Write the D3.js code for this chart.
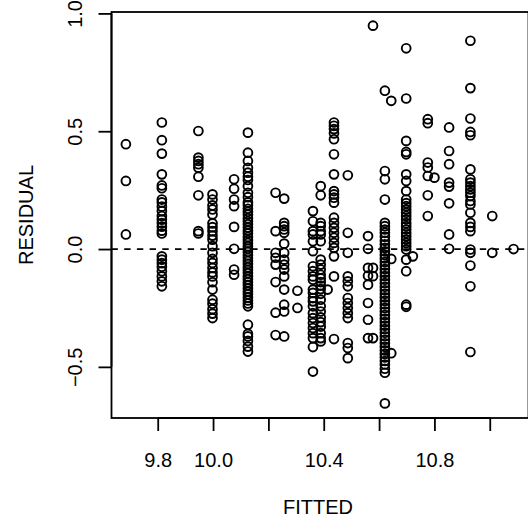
<!DOCTYPE html>
<html>
<head>
<meta charset="utf-8">
<script src="https://cdn.jsdelivr.net/npm/d3@7"></script>
<style>
  html, body { margin: 0; padding: 0; background: #fff; }
  svg { display: block; }
  text { font-family: "Liberation Sans", Arial, Helvetica, sans-serif; fill: #000; }
</style>
</head>
<body>
<svg id="chart" width="528" height="521"></svg>
<script>
// ---- data ----
const groupFitted = [
  9.685, 9.815, 9.947, 9.998, 10.076, 10.126, 10.226, 10.257, 10.305,
  10.361, 10.389, 10.414, 10.437, 10.487, 10.56, 10.578, 10.621, 10.644,
  10.698, 10.722, 10.776, 10.80, 10.853, 10.93, 11.009, 11.086
];
const groupResiduals = [
  [0.445, 0.289, 0.062],
  [0.537, 0.462, 0.405, 0.317, 0.27, 0.258, 0.21, 0.198, 0.18, 0.161, 0.14, 0.125, 0.11, 0.095, 0.078, 0.066,
   -0.031, -0.045, -0.06, -0.075, -0.094, -0.116, -0.137, -0.158],
  [0.501, 0.388, 0.374, 0.36, 0.345, 0.307, 0.228, 0.076, 0.066],
  [0.232, 0.21, 0.185, 0.168, 0.147, 0.109, 0.093, 0.076, 0.057, 0.04, 0.012, -0.016, -0.042, -0.059, -0.08,
   -0.099, -0.116, -0.141, -0.172, -0.215, -0.232, -0.255, -0.274, -0.293],
  [0.296, 0.256, 0.21, 0.182, 0.094, 0.001, -0.087, -0.109],
  [0.494, 0.409, 0.374, 0.345, 0.324, 0.307, 0.293, 0.267, 0.239, 0.22,
   0.198, 0.186, 0.171, 0.158, 0.146, 0.131, 0.118, 0.105, 0.091, 0.078, 0.066, 0.051, 0.038, 0.026, 0.012, 0.001,
   -0.012, -0.026, -0.038, -0.051, -0.063, -0.077, -0.089, -0.102, -0.116, -0.128, -0.141, -0.153, -0.167, -0.18,
   -0.192, -0.206, -0.218, -0.231, -0.243,
   -0.321, -0.36, -0.371, -0.39, -0.414, -0.435],
  [0.239, 0.076, -0.016, -0.037, -0.066, -0.14, -0.27, -0.365],
  [0.214, 0.111, 0.097, 0.083, 0.069, 0.023, -0.016, -0.045, -0.066, -0.087, -0.116, -0.172, -0.236, -0.265, -0.371],
  [-0.177, -0.25],
  [0.161, 0.118, 0.076, 0.062, 0.033, -0.009, -0.073, -0.094, -0.116, -0.13, -0.172, -0.186, -0.208, -0.222,
   -0.243, -0.272, -0.293, -0.314, -0.335, -0.357, -0.378, -0.416, -0.52],
  [0.267, 0.228, 0.111, 0.097, 0.076, 0.062, 0.033, -0.045, -0.066, -0.087, -0.109, -0.125, -0.14, -0.155,
   -0.17, -0.19, -0.215, -0.243, -0.265, -0.29, -0.31, -0.329, -0.357, -0.378, -0.392],
  [-0.172],
  [0.537, 0.523, 0.509, 0.491, 0.466, 0.402, 0.317, 0.246, 0.232, 0.218, 0.197, 0.133, 0.111, 0.09, 0.069,
   0.048, 0.026, 0.005, -0.031, -0.116, -0.382],
  [0.313, 0.069, -0.016, -0.116, -0.137, -0.158, -0.208, -0.229, -0.25, -0.272, -0.293, -0.399, -0.42, -0.463],
  [0.055, 0.001, -0.08, -0.113, -0.151, -0.229, -0.3, -0.378],
  [0.948, -0.08, -0.115, -0.378],
  [0.672, 0.331, 0.296, 0.21, 0.111, 0.097, 0.083, 0.069, 0.052, 0.035, 0.02, 0.005, -0.01, -0.025, -0.04,
   -0.055, -0.07, -0.085, -0.1, -0.115, -0.13, -0.145, -0.16, -0.175, -0.19, -0.205, -0.22, -0.235, -0.25,
   -0.265, -0.28, -0.295, -0.31, -0.325, -0.34, -0.355, -0.37, -0.385, -0.4, -0.415, -0.43, -0.445, -0.46,
   -0.475, -0.49, -0.508, -0.525, -0.655],
  [0.629, -0.042, -0.442],
  [0.852, 0.639, 0.459, 0.412, 0.402, 0.317, 0.289, 0.246, 0.21, 0.195, 0.182, 0.168, 0.154, 0.14, 0.126,
   0.11, 0.097, 0.083, 0.068, 0.054, 0.04, 0.026, 0.012, -0.002, -0.045, -0.094, -0.236, -0.245],
  [-0.031],
  [0.551, 0.534, 0.367, 0.346, 0.31, 0.228, 0.14],
  [0.303],
  [0.516, 0.416, 0.36, 0.282, 0.265, 0.194, 0.062, 0.001],
  [0.884, 0.683, 0.554, 0.497, 0.483, 0.338, 0.296, 0.282, 0.267, 0.253, 0.239, 0.225, 0.204, 0.189, 0.154,
   0.111, 0.094, 0.076, -0.002, -0.016, -0.07, -0.158, -0.437],
  [0.14, -0.016],
  [0.0]
];
const xTickValues = [9.8, 10.0, 10.2, 10.4, 10.6, 10.8, 11.0];
const xTickLabels = ["9.8", "10.0", "", "10.4", "", "10.8", ""];
const yTickValues = [-0.5, 0.0, 0.5, 1.0];
const yTickLabels = ["\u22120.5", "0.0", "0.5", "1.0"];
const xTitle = "FITTED";
const yTitle = "RESIDUAL";

// ---- layout ----
const svg = d3.select("#chart");
const pLeft = 111.5, pRight = 528.5, pTop = 12, pBottom = 418;
const x = d3.scaleLinear().domain([9.633, 11.14]).range([pLeft, pRight]);
const y = d3.scaleLinear().domain([-0.717, 1.006]).range([pBottom, pTop]);
const lw = 1.8;

const points = [];
groupFitted.forEach((f, i) => groupResiduals[i].forEach(r => points.push({f, r})));

svg.append("defs").append("clipPath").attr("id", "plotclip")
  .append("rect").attr("x", pLeft).attr("y", pTop).attr("width", pRight - pLeft).attr("height", pBottom - pTop);

// zero reference line
svg.append("line")
  .attr("clip-path", "url(#plotclip)")
  .attr("x1", pLeft).attr("x2", pRight)
  .attr("y1", y(0)).attr("y2", y(0))
  .attr("stroke", "#000").attr("stroke-width", lw)
  .attr("stroke-dasharray", "6.4,6.3");

// points
svg.append("g").attr("clip-path", "url(#plotclip)")
  .selectAll("circle").data(points).join("circle")
  .attr("cx", d => x(d.f)).attr("cy", d => y(d.r))
  .attr("r", 4.4)
  .attr("fill", "none").attr("stroke", "#000").attr("stroke-width", 1.9);

// box
svg.append("rect")
  .attr("x", pLeft).attr("y", pTop).attr("width", pRight - pLeft).attr("height", pBottom - pTop)
  .attr("fill", "none").attr("stroke", "#000").attr("stroke-width", lw);

// x axis
const xAxis = d3.axisBottom(x).tickValues(xTickValues).tickSize(13)
  .tickFormat((d, i) => xTickLabels[i]);
const gx = svg.append("g").attr("transform", `translate(0,${pBottom})`).call(xAxis);
gx.select(".domain").attr("d", `M${x(xTickValues[0])},0H${x(xTickValues[xTickValues.length-1])}`)
  .attr("stroke-width", lw);
gx.selectAll(".tick line").attr("stroke-width", lw);
gx.selectAll(".tick text").attr("y", 49).attr("dy", 0)
  .style("font-size", "20px").style("font-family", "'Liberation Sans', Arial, sans-serif");

// y axis
const yAxis = d3.axisLeft(y).tickValues(yTickValues).tickSize(13)
  .tickFormat((d, i) => yTickLabels[i]);
const gy = svg.append("g").attr("transform", `translate(${pLeft},0)`).call(yAxis);
gy.select(".domain").attr("d", `M0,${y(yTickValues[0])}V${y(yTickValues[yTickValues.length-1])}`)
  .attr("stroke-width", lw);
gy.selectAll(".tick line").attr("stroke-width", lw);
gy.selectAll(".tick text")
  .attr("x", null).attr("dy", null)
  .attr("text-anchor", "middle")
  .attr("transform", "translate(-29.5,0) rotate(-90)")
  .style("font-size", "20px").style("font-family", "'Liberation Sans', Arial, sans-serif");

// titles
svg.append("text").attr("x", (pLeft + pRight) / 2 - 2).attr("y", 514)
  .attr("text-anchor", "middle").style("font-size", "20px").text(xTitle);
svg.append("text").attr("transform", `translate(33,${(pTop + pBottom) / 2}) rotate(-90)`)
  .attr("text-anchor", "middle").style("font-size", "20px").text(yTitle);
</script>
</body>
</html>
